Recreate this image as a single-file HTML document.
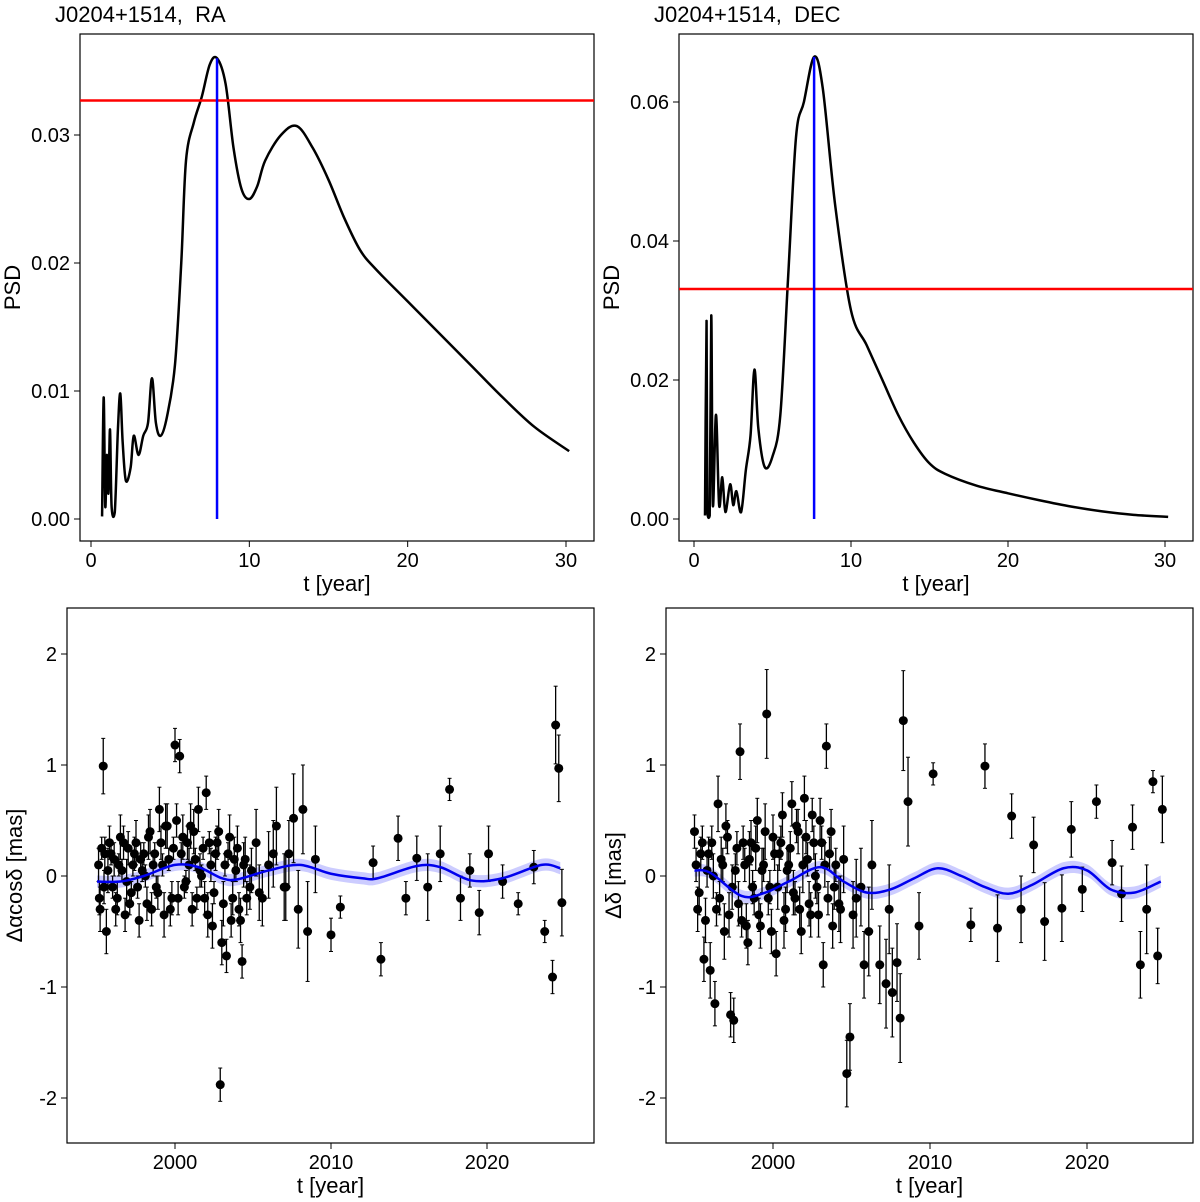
<!DOCTYPE html>
<html><head><meta charset="utf-8">
<style>
body{margin:0;background:#fff;}
svg{display:block;font-family:"Liberation Sans",sans-serif;}
text{white-space:pre;}
</style></head>
<body>
<svg id="fig" width="1200" height="1202"></svg>
<script>
// ---- data ----
const raPsdT=[0.7,0.8,0.9,1.0,1.1,1.2,1.3,1.5,1.7,1.85,2.0,2.2,2.5,2.7,3.0,3.3,3.6,3.85,4.1,4.4,4.8,5.3,5.7,6.0,6.5,7.0,7.5,7.96,8.5,9.0,9.5,10,10.5,11,12,13,14,15,16,17,18,20,22,24,26,28,30.2];
const raPsdV=[0.0002,0.0095,0.001,0.005,0.002,0.007,0.001,0.0005,0.007,0.0098,0.006,0.003,0.004,0.0065,0.005,0.0065,0.0075,0.011,0.0075,0.0065,0.008,0.012,0.02,0.028,0.031,0.033,0.0355,0.036,0.034,0.029,0.0258,0.025,0.026,0.028,0.030,0.0307,0.029,0.0265,0.0235,0.021,0.0195,0.017,0.0145,0.012,0.0095,0.0072,0.0053];
const raThresh=0.0327, raPeak=7.96;
const decPsdT=[0.7,0.8,0.85,1.0,1.1,1.2,1.4,1.6,1.8,2.0,2.3,2.5,2.7,3.0,3.3,3.6,3.85,4.1,4.5,5,5.5,6,6.5,7.0,7.65,8.2,9,10,11,12,13,14,15,16,18,20,22,24,26,28,30.2];
const decPsdV=[0.0005,0.0285,0.001,0.0005,0.0293,0.002,0.015,0.002,0.006,0.001,0.005,0.002,0.004,0.001,0.007,0.012,0.0215,0.013,0.0075,0.009,0.015,0.035,0.055,0.06,0.0665,0.062,0.045,0.03,0.025,0.02,0.015,0.011,0.008,0.0065,0.0048,0.0037,0.0027,0.0018,0.0011,0.0006,0.0003];
const decThresh=0.0331, decPeak=7.65;
const raFitT=[1995,1996.5,1998,2000,2001.5,2003,2004,2006,2008,2010,2012,2013,2015.5,2017,2019,2021,2023.5,2024.7];
const raFitV=[-0.05,-0.05,0,0.1,0.08,-0.02,-0.03,0.05,0.1,0.02,-0.02,-0.02,0.09,0.08,-0.04,-0.02,0.1,0.07];
const decFitT=[1995,1996,1998,1999.5,2001,2003,2004.5,2006,2007.5,2009,2010.5,2012,2013.5,2015,2016.5,2018.5,2020,2021.5,2023,2024.7];
const decFitV=[0.05,0.03,-0.18,-0.15,-0.05,0.08,-0.05,-0.15,-0.12,-0.02,0.07,0,-0.1,-0.16,-0.08,0.07,0.05,-0.12,-0.15,-0.05];
const raObsT=[1995.1,1995.2,1995.4,1995.5,1995.6,1995.8,1996.0,1996.1,1996.3,1996.5,1996.6,1996.8,1997.0,1997.2,1997.3,1997.5,1997.7,1997.9,1998.0,1998.2,1998.4,1998.6,1998.8,1999.0,1999.1,1999.3,1999.5,1999.6,1999.8,2000.0,2000.1,2000.3,2000.4,2000.6,2000.8,2001.0,2001.1,2001.3,2001.5,2001.7,2001.9,2002.0,2002.2,2002.4,2002.6,2002.8,2002.9,2003.0,2003.2,2003.3,2003.5,2003.7,2003.9,2004.0,2004.2,2004.3,2004.5,2004.8,2005.2,2005.6,2006.0,2006.5,2007.0,2007.3,2007.6,2007.9,2008.2,2008.5,2009.0,2010.0,2010.6,2012.7,2013.2,2014.3,2014.8,2015.5,2016.2,2017.0,2017.6,2018.3,2018.9,2019.5,2020.1,2021.0,2022.0,2023.0,2023.7,2024.2,2024.4,2024.6,2024.8,
1995.15,1995.3,1995.45,1995.7,1995.9,1996.2,1996.4,1996.7,1996.9,1997.1,1997.4,1997.6,1997.8,1998.1,1998.3,1998.5,1998.7,1998.9,1999.2,1999.4,1999.7,1999.9,2000.2,2000.5,2000.7,2000.9,2001.2,2001.4,2001.6,2001.8,2002.1,2002.3,2002.5,2002.7,2003.1,2003.4,2003.6,2003.8,2004.1,2004.4,2004.6,2004.9,2005.4,2006.3,2007.1];
const raObsV=[0.1,-0.3,0.99,0.2,-0.5,0.3,-0.1,0.15,-0.2,0.35,0.05,-0.35,0.25,-0.15,0.1,0.3,-0.4,0.05,0.2,-0.25,0.4,0.1,-0.1,0.6,0.3,-0.35,0.45,0.15,-0.2,1.18,0.5,1.08,0.2,-0.1,0.3,0.45,-0.3,0.15,0.6,0.0,-0.2,0.75,0.3,-0.45,0.2,0.4,-1.88,-0.6,0.1,-0.72,0.35,-0.2,0.05,0.25,-0.4,-0.77,0.15,-0.1,0.3,-0.2,0.1,0.45,-0.1,0.2,0.52,-0.3,0.6,-0.5,0.15,-0.53,-0.28,0.12,-0.75,0.34,-0.2,0.16,-0.1,0.2,0.78,-0.2,0.05,-0.33,0.2,-0.05,-0.25,0.08,-0.5,-0.91,1.36,0.97,-0.24,
-0.2,0.25,-0.1,0.05,0.2,-0.3,0.1,0.3,-0.05,-0.25,0.2,-0.1,0.15,0.0,0.35,-0.3,0.2,-0.15,0.1,0.45,-0.3,0.25,-0.2,0.35,-0.05,0.1,0.4,-0.2,0.05,0.25,-0.35,0.1,-0.15,0.3,-0.25,0.2,-0.4,0.15,-0.3,0.1,-0.2,0.05,-0.15,0.2,-0.1];
const raObsE=[0.15,0.2,0.25,0.15,0.2,0.15,0.1,0.15,0.15,0.2,0.1,0.15,0.15,0.1,0.1,0.2,0.15,0.1,0.1,0.15,0.2,0.1,0.1,0.2,0.15,0.2,0.2,0.1,0.15,0.15,0.15,0.15,0.1,0.1,0.15,0.2,0.15,0.1,0.2,0.1,0.15,0.15,0.1,0.2,0.15,0.2,0.15,0.2,0.1,0.15,0.2,0.15,0.1,0.2,0.2,0.15,0.2,0.2,0.3,0.25,0.3,0.35,0.3,0.3,0.4,0.35,0.4,0.45,0.3,0.15,0.1,0.15,0.15,0.2,0.15,0.2,0.3,0.25,0.1,0.2,0.15,0.2,0.25,0.15,0.1,0.15,0.1,0.15,0.35,0.3,0.3,
0.15,0.1,0.15,0.2,0.1,0.15,0.1,0.15,0.2,0.1,0.15,0.1,0.15,0.1,0.2,0.15,0.1,0.15,0.1,0.2,0.15,0.1,0.15,0.2,0.1,0.15,0.2,0.1,0.15,0.1,0.2,0.15,0.1,0.15,0.2,0.1,0.15,0.2,0.15,0.2,0.15,0.2,0.25,0.3,0.3];
const decObsT=[1995.0,1995.2,1995.4,1995.6,1995.8,1996.0,1996.1,1996.3,1996.5,1996.6,1996.8,1997.0,1997.2,1997.3,1997.5,1997.7,1997.9,1998.0,1998.2,1998.4,1998.6,1998.8,1999.0,1999.2,1999.4,1999.6,1999.8,2000.0,2000.2,2000.4,2000.6,2000.8,2001.0,2001.2,2001.4,2001.6,2001.8,2002.0,2002.2,2002.4,2002.6,2002.8,2003.0,2003.2,2003.4,2003.6,2003.8,2004.0,2004.3,2004.7,2004.9,2005.3,2005.8,2006.3,2006.8,2007.2,2007.6,2007.9,2008.1,2008.3,2008.6,2009.3,2010.2,2012.6,2013.5,2014.3,2015.2,2015.8,2016.6,2017.3,2018.4,2019.0,2019.7,2020.6,2021.6,2022.2,2022.9,2023.4,2023.8,2024.2,2024.5,2024.8,
1995.1,1995.3,1995.5,1995.7,1995.9,1996.2,1996.4,1996.7,1996.9,1997.1,1997.4,1997.6,1997.8,1998.1,1998.3,1998.5,1998.7,1998.9,1999.1,1999.3,1999.5,1999.7,1999.9,2000.1,2000.3,2000.5,2000.7,2000.9,2001.1,2001.3,2001.5,2001.7,2001.9,2002.1,2002.3,2002.5,2002.7,2002.9,2003.1,2003.3,2003.5,2003.7,2003.9,2004.2,2004.5,2005.1,2005.6,2006.1,2007.4];
const decObsV=[0.4,-0.3,0.2,-0.75,0.05,-0.85,0.3,-1.15,0.65,-0.2,0.1,0.45,-0.35,-1.25,-1.3,0.25,1.12,-0.4,0.1,-0.6,0.3,-0.2,0.5,-0.45,0.1,1.46,-0.1,0.35,-0.7,0.2,0.55,-0.3,0.1,0.65,-0.2,0.4,-0.5,0.7,0.15,-0.35,0.3,-0.1,0.5,-0.8,1.17,0.2,-0.45,0.1,-0.3,-1.78,-1.45,-0.2,-0.8,0.1,-0.8,-0.97,-1.05,-0.78,-1.28,1.4,0.67,-0.45,0.92,-0.44,0.99,-0.47,0.54,-0.3,0.28,-0.41,-0.29,0.42,-0.12,0.67,0.12,-0.16,0.44,-0.8,-0.3,0.85,-0.72,0.6,
0.1,-0.15,0.3,-0.4,0.2,0.0,-0.3,0.15,-0.5,0.35,-0.1,0.05,-0.25,0.3,-0.45,0.15,-0.1,0.25,-0.35,0.05,0.4,-0.2,-0.5,0.2,-0.1,0.3,-0.4,0.05,0.25,-0.15,0.45,-0.3,0.1,0.35,-0.25,0.55,0.0,-0.35,0.3,0.1,-0.2,0.4,-0.1,-0.25,0.15,-0.35,-0.1,-0.5,-0.3];
const decObsE=[0.15,0.2,0.15,0.2,0.15,0.25,0.15,0.2,0.25,0.15,0.15,0.2,0.2,0.2,0.2,0.15,0.25,0.15,0.15,0.2,0.2,0.15,0.2,0.2,0.15,0.4,0.15,0.2,0.2,0.15,0.2,0.2,0.15,0.2,0.15,0.2,0.2,0.2,0.15,0.2,0.15,0.15,0.2,0.2,0.2,0.15,0.2,0.15,0.3,0.3,0.3,0.35,0.3,0.4,0.35,0.4,0.4,0.35,0.4,0.45,0.4,0.3,0.1,0.15,0.2,0.3,0.2,0.3,0.25,0.35,0.3,0.25,0.2,0.15,0.2,0.25,0.2,0.3,0.4,0.1,0.25,0.3,
0.15,0.2,0.15,0.2,0.15,0.2,0.15,0.2,0.25,0.15,0.2,0.15,0.2,0.15,0.2,0.25,0.15,0.2,0.15,0.2,0.25,0.15,0.2,0.15,0.2,0.15,0.25,0.2,0.15,0.2,0.15,0.2,0.25,0.15,0.2,0.15,0.2,0.2,0.15,0.2,0.15,0.2,0.2,0.25,0.3,0.3,0.35,0.4,0.4];

// ---- drawing ----
const NS='http://www.w3.org/2000/svg';
const svg=document.getElementById('fig');
function mk(tag,at,parent){const e=document.createElementNS(NS,tag);for(const k in at)e.setAttribute(k,at[k]);(parent||svg).appendChild(e);return e;}
function lin(d0,d1,r0,r1){return v=>r0+(v-d0)*(r1-r0)/(d1-d0);}
function smooth(pts,ymax){const cl=y=>ymax===undefined?y:Math.min(y,ymax);let d='M'+pts[0][0]+','+pts[0][1];for(let i=0;i<pts.length-1;i++){const p0=pts[i-1]||pts[i],p1=pts[i],p2=pts[i+1],p3=pts[i+2]||p2;const c1=[p1[0]+(p2[0]-p0[0])/6,cl(p1[1]+(p2[1]-p0[1])/6)],c2=[p2[0]-(p3[0]-p1[0])/6,cl(p2[1]-(p3[1]-p1[1])/6)];d+=`C${c1[0]},${c1[1]} ${c2[0]},${c2[1]} ${p2[0]},${p2[1]}`;}return d;}

function frame(g,b,xs,ys,xt,yt,xtl,ytl,xtitle,ytitle,ytx){
  const r=mk('rect',{x:b.x0,y:b.y0,width:b.x1-b.x0,height:b.y1-b.y0,fill:'none',stroke:'#000','stroke-width':1.2},g);
  
  xt.forEach((v,i)=>{const x=xs(v);mk('line',{x1:x,x2:x,y1:b.y1,y2:b.y1+6,stroke:'#000'},g);
    const t=mk('text',{x:x,y:b.y1+26,'font-size':20,'text-anchor':'middle'},g);t.textContent=xtl[i];
    });
  yt.forEach((v,i)=>{const y=ys(v);mk('line',{x1:b.x0,x2:b.x0-6,y1:y,y2:y,stroke:'#000'},g);
    const t=mk('text',{x:b.x0-10,y:y+7,'font-size':20,'text-anchor':'end'},g);t.textContent=ytl[i];
    });
  const xtt=mk('text',{x:(b.x0+b.x1)/2,y:b.y1+50,'font-size':22,'text-anchor':'middle'},g);xtt.textContent=xtitle;
  
  const cy=(b.y0+b.y1)/2;
  const ytt=mk('text',{x:ytx,y:cy,'font-size':22,'text-anchor':'middle',transform:`rotate(-90 ${ytx} ${cy})`},g);ytt.textContent=ytitle;
  
}

function psd(name,b,xr,yr,T,V,thr,peak,yt,ytl,title){
  const g=mk('g',{});
  const xs=lin(xr[0],xr[1],xr[2],xr[3]),ys=lin(yr[0],yr[1],yr[2],yr[3]);
  frame(g,b,xs,ys,[0,10,20,30],yt,['0','10','20','30'],ytl,'t [year]','PSD',b.x0-60);
  const tt=mk('text',{x:b.x0-25,y:22,'font-size':22},g);tt.textContent=title;
  
  const c=mk('path',{d:smooth(T.map((t,i)=>[xs(t),ys(V[i])]),ys(0)),fill:'none',stroke:'#000','stroke-width':2.5},g);
  
  const h=mk('line',{x1:b.x0,x2:b.x1,y1:ys(thr),y2:ys(thr),stroke:'#f00','stroke-width':2.5},g);
  
  const pk=V[T.indexOf(peak)];
  const v=mk('line',{x1:xs(peak),x2:xs(peak),y1:ys(0),y2:ys(pk),stroke:'#00f','stroke-width':2.5},g);
  
}

function ts(name,b,xs,T,V,E,FT,FV,ytitle){
  const g=mk('g',{});
  const ys=lin(0,1,876,765);
  frame(g,b,xs,ys,[2000,2010,2020],[-2,-1,0,1,2],['2000','2010','2020'],['-2','-1','0','1','2'],'t [year]',ytitle,b.x0-45);
  const up=FT.map((t,i)=>[xs(t),ys(FV[i]+0.055)]),dn=FT.map((t,i)=>[xs(t),ys(FV[i]-0.055)]).reverse();
  const band=mk('path',{d:smooth(up)+'L'+smooth(dn).slice(1)+'Z',fill:'#0000ff',opacity:0.2},g);
  
  T.forEach((t,i)=>{const x=xs(t);
    const l=mk('line',{x1:x,x2:x,y1:ys(V[i]-E[i]),y2:ys(V[i]+E[i]),stroke:'#000','stroke-width':1.3},g);
    
    [V[i]-E[i],V[i]+E[i]].forEach(v=>mk('line',{x1:x-2,x2:x+2,y1:ys(v),y2:ys(v),stroke:'#000'},g));
    const c=mk('circle',{cx:x,cy:ys(V[i]),r:4.5,fill:'#000'},g);
    });
  const f=mk('path',{d:smooth(FT.map((t,i)=>[xs(t),ys(FV[i])])),fill:'none',stroke:'#0000ee','stroke-width':2.5},g);
  
}

psd('ra-psd-panel',{x0:80,x1:594,y0:34,y1:541},[0,30,91,566],[0,0.01,519,391],raPsdT,raPsdV,raThresh,raPeak,[0,0.01,0.02,0.03],['0.00','0.01','0.02','0.03'],'J0204+1514,  RA');
psd('dec-psd-panel',{x0:679,x1:1193,y0:34,y1:541},[0,30,694,1165],[0,0.02,519,380],decPsdT,decPsdV,decThresh,decPeak,[0,0.02,0.04,0.06],['0.00','0.02','0.04','0.06'],'J0204+1514,  DEC');
ts('ra-timeseries-panel',{x0:67,x1:594,y0:608,y1:1143},lin(2000,2020,175,487),raObsT,raObsV,raObsE,raFitT,raFitV,'Δαcosδ [mas]');
ts('dec-timeseries-panel',{x0:666,x1:1193,y0:608,y1:1143},lin(2000,2020,773,1087),decObsT,decObsV,decObsE,decFitT,decFitV,'Δδ [mas]');
</script>
</body></html>
